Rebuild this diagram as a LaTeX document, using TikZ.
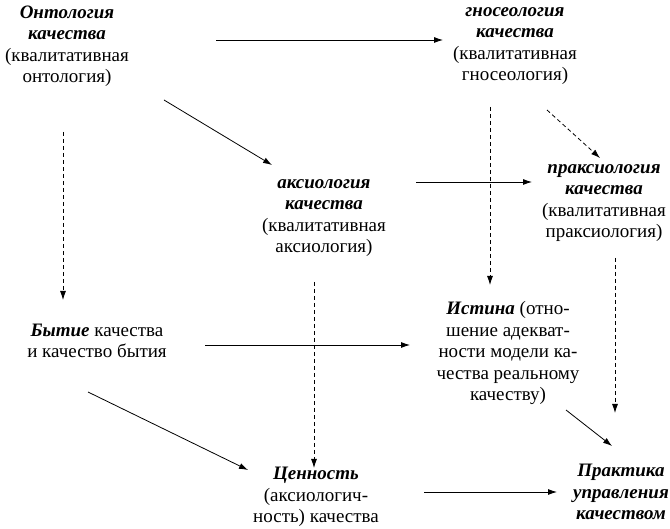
\documentclass[tikz,border=0pt]{standalone}
\usepackage{fontspec}
\setmainfont{Liberation Serif}
\usetikzlibrary{arrows.meta}
\newcommand{\kw}[1]{\textbf{\textit{#1}}}
\begin{document}
\begin{tikzpicture}[x=1pt, y=-1pt,
        every node/.style={align=center, inner sep=0pt, font=\fontsize{19}{21.5}\selectfont},
        arr/.style={-{Latex[length=9pt,width=6pt]}, line width=0.8pt},
        darr/.style={arr, dash pattern=on 4pt off 3pt}]
    \useasboundingbox (0,0) rectangle (670,529);
    \node (onto) at (67,46) {\kw{Онтология}\\ \kw{качества}\\ (квалитативная\\ онтология)};
    \node (gnoseo) at (515,46) {\kw{гносеология}\\ \kw{качества}\\ (квалитативная\\ гносеология)};
    \node (axio) at (324,218) {\kw{аксиология}\\ \kw{качества}\\ (квалитативная\\ аксиология)};
    \node (praxio) at (604,203) {\kw{праксиология}\\ \kw{качества}\\ (квалитативная\\ праксиология)};
    \node (bytie) at (97,341) {\kw{Бытие} качества\\ и качество бытия};
    \node (istina) at (508,353) {\kw{Истина} (отно-\\ шение адекват-\\ ности модели ка-\\ чества реальному\\ качеству)};
    \node (tsennost) at (316,497) {\kw{Ценность}\\ (аксиологич-\\ ность) качества};
    \node (praktika) at (621,492) {\kw{Практика}\\ \kw{управления}\\ \kw{качеством}};
    \draw[arr] ([shift={(149,-6)}]onto.center) -- ([shift={(-72,-6)}]gnoseo.center);
    \draw[arr] ([shift={(97,54)}]onto.center) -- ([shift={(-52,-53)}]axio.center);
    \draw[darr] ([shift={(-4,86)}]onto.center) -- ([shift={(-34,-41)}]bytie.center);
    \draw[darr] ([shift={(-25,61)}]gnoseo.center) -- ([shift={(-18,-68)}]istina.center);
    \draw[darr] ([shift={(32,64)}]gnoseo.center) -- ([shift={(-4,-45)}]praxio.center);
    \draw[arr] ([shift={(92,-36)}]axio.center) -- ([shift={(-72,-21)}]praxio.center);
    \draw[darr] ([shift={(11,55)}]praxio.center) -- ([shift={(-6,-79)}]praktika.center);
    \draw[darr] ([shift={(-10,64)}]axio.center) -- ([shift={(-2,-29)}]tsennost.center);
    \draw[arr] ([shift={(108,4)}]bytie.center) -- ([shift={(-98,-8)}]istina.center);
    \draw[arr] ([shift={(-9,51)}]bytie.center) -- ([shift={(-68,-27)}]tsennost.center);
    \draw[arr] ([shift={(58,57)}]istina.center) -- ([shift={(-9,-46)}]praktika.center);
    \draw[arr] ([shift={(108,-5)}]tsennost.center) -- ([shift={(-64,0)}]praktika.center);
\end{tikzpicture}
\end{document}
